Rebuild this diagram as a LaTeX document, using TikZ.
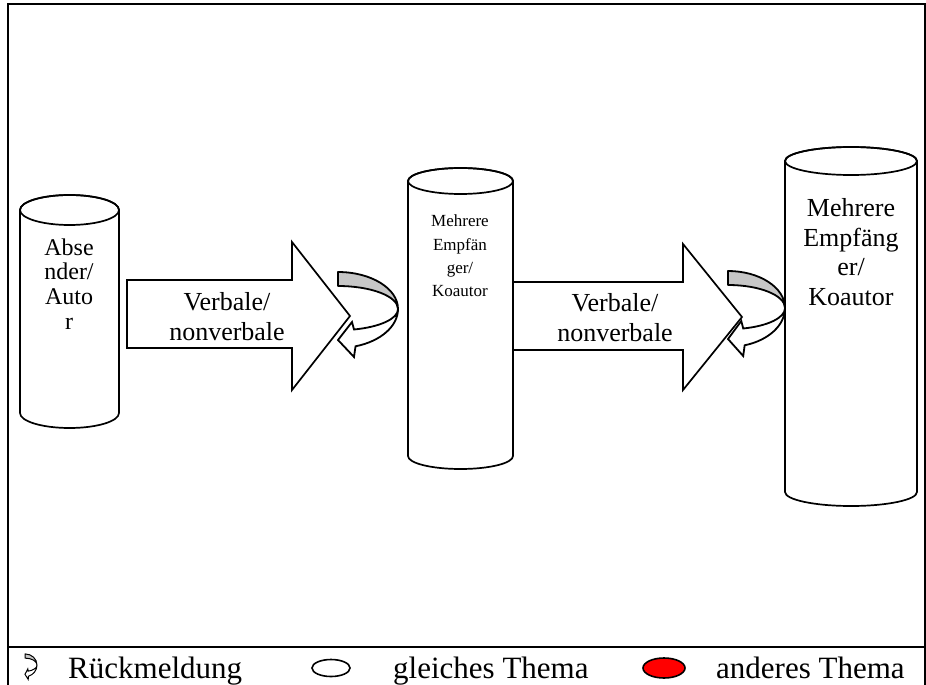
\documentclass[tikz,border=0pt]{standalone}
\usepackage{fontspec}
\setmainfont{Liberation Serif}

\tikzset{
  frameline/.style={line width=2pt},
  cylbody/.style={draw, fill=white, line width=1.7pt},
  blockarrow/.style={draw, fill=white, line width=1.7pt, line join=miter},
  lbl/.style={align=center, inner sep=0pt},
  legendtext/.style={anchor=base west, inner sep=0pt, font=\fontsize{31}{33}\selectfont},
  pics/backarrow/.style={code={
    % shaded back side of the turning band
    \filldraw[fill=black!22, line width=#1, line join=round]
      (0pt,-37pt) arc[start angle=-90, end angle=0, x radius=60pt, y radius=37pt]
      arc[start angle=0, end angle=-90, x radius=60pt, y radius=23pt] -- cycle;
    % white front side with the arrow head pointing back
    \filldraw[fill=white, line width=#1, line join=miter]
      (60pt,0pt) arc[start angle=0, end angle=73, x radius=60pt, y radius=39pt]
      -- (16pt,48pt) -- (0pt,31pt) -- (14pt,13pt) -- (16pt,20.5pt)
      arc[start angle=74.5, end angle=0, x radius=60pt, y radius=21pt] -- cycle;
  }},
  pics/backarrow/.default=1.8pt
}

% cylinder: left x, right x, top y, bottom y, cap half-height
\newcommand\drawcyl[5]{%
  \pgfmathsetmacro\cxc{(#1+#2)/2}%
  \pgfmathsetmacro\crx{(#2-#1)/2}%
  \path[cylbody] (#1,#3+#5) -- (#1,#4-#5)
    arc[start angle=180, end angle=0, x radius=\crx pt, y radius=#5pt]
    -- (#2,#3+#5)
    arc[start angle=0, end angle=-180, x radius=\crx pt, y radius=#5pt] -- cycle;
  \draw[line width=1.7pt] (\cxc,#3+#5) ellipse[x radius=\crx pt, y radius=#5pt];
}

\begin{document}
\begin{tikzpicture}[x=1pt, y=1pt, yscale=-1]
\useasboundingbox (0,0) rectangle (926,685);

% outer frame and legend separator
\draw[frameline] (7.5,685) -- (7.5,4.5) -- (924.5,4.5) -- (924.5,685);
\draw[frameline] (7.5,647) -- (924.5,647);

% sender
\drawcyl{20}{119}{195}{428}{15}
\node[lbl, font=\fontsize{24}{24.7}\selectfont] (sender) at (69,284) {Abse\\nder/\\Auto\\r};

% first group of receivers
\drawcyl{408}{513}{168}{469}{13}
\node[lbl, font=\fontsize{17}{23.3}\selectfont] (recvA) at (460,256) {Mehrere\\Empfän\\ger/\\Koautor};

% second group of receivers
\drawcyl{785}{917}{147}{506}{14}
\node[lbl, font=\fontsize{26}{29.5}\selectfont] (recvB) at (851,252) {Mehrere\\Empfäng\\er/\\Koautor};

% message arrows
\path[blockarrow] (127,280) -- (292,280) -- (292,242) -- (350,316) -- (292,390)
  -- (292,348) -- (127,348) -- cycle;
\node[lbl, font=\fontsize{26}{30}\selectfont] (msgA) at (227,317) {Verbale/\\nonverbale};

\path[blockarrow] (513,282) -- (683,282) -- (683,244) -- (742,317) -- (683,390)
  -- (683,350) -- (513,350) -- cycle;
\node[lbl, font=\fontsize{26}{30}\selectfont] (msgB) at (615,318) {Verbale/\\nonverbale};

% feedback arrows
\pic[yscale=-1] at (338,309) {backarrow};
\pic[xscale=0.95, yscale=-1] at (728,308) {backarrow};

% legend
\pic[xscale=0.2, yscale=-0.3] at (25,665) {backarrow=1pt};
\node[legendtext] (lgA) at (68,678) {Rückmeldung};
\draw[line width=1.6pt, fill=white] (331,668) ellipse[x radius=19pt, y radius=8.5pt];
\node[legendtext] (lgB) at (393,678) {gleiches Thema};
\draw[line width=1.6pt, fill=red] (664,668) ellipse[x radius=21pt, y radius=10pt];
\node[legendtext] (lgC) at (716,678) {anderes Thema};
\end{tikzpicture}
\end{document}
